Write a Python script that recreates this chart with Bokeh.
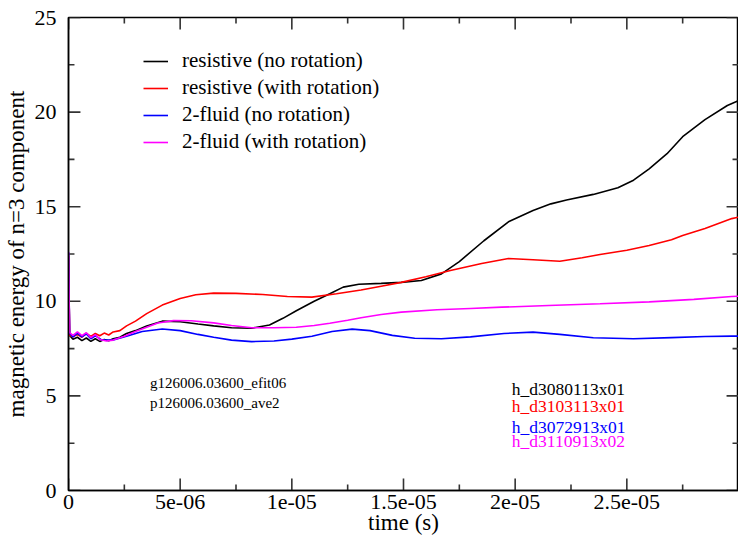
from bokeh.plotting import figure
from bokeh.models import (FixedTicker, Legend, LegendItem, Label, Range1d, ColumnDataSource)
from bokeh.embed import file_html
from bokeh.resources import INLINE

# ---------------- data (time in microseconds) ----------------
t_black = [0.0, 0.05, 0.2, 0.4, 0.6, 0.8, 1.0, 1.2, 1.4, 1.6, 1.8, 2.0, 2.3, 2.6, 3.0, 3.5,
           4.2, 5.0, 5.8, 6.5, 7.3, 8.2, 9.0, 9.6, 10.2, 11.0, 11.7, 12.3, 13.0, 14.0, 14.9,
           15.8, 16.7, 17.5, 18.6, 19.7, 20.8, 21.6, 22.3, 23.5, 24.6, 25.3, 26.0, 26.8,
           27.5, 28.5, 29.5, 30.0]
v_black = [12.5, 8.2, 8.0, 8.1, 7.92, 8.06, 7.88, 8.02, 7.88, 7.98, 7.92, 8.02, 8.1, 8.3, 8.45, 8.7,
           8.95, 8.92, 8.8, 8.7, 8.6, 8.58, 8.75, 9.1, 9.5, 10.0, 10.4, 10.75, 10.9, 10.95, 11.0,
           11.1, 11.45, 12.1, 13.2, 14.2, 14.8, 15.15, 15.35, 15.65, 16.0, 16.4, 17.0, 17.8,
           18.7, 19.6, 20.35, 20.6]

t_red = [0.0, 0.05, 0.2, 0.4, 0.6, 0.8, 1.0, 1.2, 1.4, 1.6, 1.8, 2.0, 2.3, 2.6, 3.0, 3.5, 4.2,
         5.0, 5.7, 6.5, 7.5, 8.7, 9.8, 10.9, 12.0, 13.1, 14.0, 14.9, 16.0, 17.1, 18.5, 19.7,
         20.8, 22.0, 23.0, 23.8, 25.0, 26.0, 27.0, 27.5, 28.5, 29.7, 30.0]
v_red = [12.4, 8.2, 8.12, 8.26, 8.1, 8.3, 8.14, 8.3, 8.18, 8.32, 8.22, 8.38, 8.45, 8.7, 8.95, 9.35, 9.8,
         10.15, 10.35, 10.43, 10.42, 10.36, 10.25, 10.22, 10.4, 10.6, 10.8, 11.0, 11.3, 11.63, 12.0, 12.26,
         12.2, 12.12, 12.3, 12.47, 12.7, 12.95, 13.25, 13.48, 13.85, 14.37, 14.45]

t_blue = [0.0, 0.05, 0.2, 0.4, 0.6, 0.8, 1.0, 1.2, 1.5, 2.0, 2.6, 3.3, 4.2, 5.0, 5.8, 6.5, 7.3,
          8.2, 9.2, 10.0, 10.9, 11.8, 12.7, 13.5, 14.5, 15.5, 16.7, 18.0, 19.5, 20.8, 22.0,
          23.5, 25.3, 27.0, 28.5, 29.7, 30.0]
v_blue = [12.6, 8.3, 8.12, 8.32, 8.12, 8.28, 8.02, 8.18, 7.95, 7.96, 8.15, 8.4, 8.54, 8.45, 8.25, 8.1, 7.95,
          7.87, 7.9, 8.0, 8.15, 8.4, 8.53, 8.45, 8.2, 8.05, 8.02, 8.12, 8.3, 8.37, 8.25,
          8.07, 8.02, 8.08, 8.14, 8.16, 8.16]

t_mag = [0.0, 0.05, 0.2, 0.4, 0.6, 0.8, 1.0, 1.2, 1.4, 1.7, 2.0, 2.5, 3.0, 3.5, 4.0, 4.7, 5.5,
         6.5, 7.3, 8.2, 9.2, 10.2, 11.0, 11.7, 12.5, 13.1, 14.0, 14.9, 16.5, 18.0, 19.4, 21.5,
         23.8, 26.0, 28.0, 29.7, 30.0]
v_mag = [12.6, 8.35, 8.2, 8.38, 8.18, 8.34, 8.08, 8.24, 7.98, 7.9, 7.95, 8.15, 8.4, 8.63, 8.85, 8.98, 8.97,
         8.86, 8.72, 8.6, 8.6, 8.63, 8.72, 8.84, 9.0, 9.13, 9.3, 9.43, 9.55, 9.62, 9.69, 9.78,
         9.87, 9.97, 10.1, 10.25, 10.27]

series_labels = ["resistive (no rotation)", "resistive (with rotation)",
                 "2-fluid (no rotation)", "2-fluid (with rotation)"]
series_colors = ["#000000", "#ff0000", "#0000ff", "#ff00ff"]

x_ticks = [0.0, 5e-6, 1e-5, 1.5e-5, 2e-5, 2.5e-5]
x_tick_labels = ["0", "5e-06", "1e-05", "1.5e-05", "2e-05", "2.5e-05"]
x_minor = [2.5e-6, 7.5e-6, 1.25e-5, 1.75e-5, 2.25e-5, 2.75e-5]
y_ticks = [0, 5, 10, 15, 20, 25]
y_minor = [2.5, 7.5, 12.5, 17.5, 22.5]

file_labels = ["h_d3080113x01", "h_d3103113x01", "h_d3072913x01", "h_d3110913x02"]
file_label_y = [5.39, 4.44, 3.38, 2.6]
case_labels = ["g126006.03600_efit06", "p126006.03600_ave2"]
case_label_y = [5.66, 4.65]

FONT = "Liberation Serif"
X0, X1, Y0, Y1 = 0.0, 3e-5, 0.0, 25.0

# ---------------- figure ----------------
p = figure(width=738, height=538, output_backend="svg", toolbar_location=None,
           x_range=Range1d(X0, X1), y_range=Range1d(Y0, Y1),
           min_border_left=65, min_border_bottom=48, min_border_top=17, min_border_right=0,
           x_axis_label="time (s)", y_axis_label="magnetic energy of n=3 component")
p.grid.visible = False
p.outline_line_color = "black"
p.outline_line_width = 1.5
p.background_fill_color = "white"
p.border_fill_color = "white"

def style_axis(ax):
    ax.major_tick_in = 0
    ax.major_tick_out = 0
    ax.minor_tick_in = 0
    ax.minor_tick_out = 0
    ax.axis_line_color = "black"
    ax.axis_line_width = 1.5
    ax.major_label_text_font = FONT
    ax.axis_label_text_font = FONT
    ax.axis_label_text_font_style = "normal"
    ax.major_label_text_font_size = "22px"
    ax.axis_label_text_font_size = "23px"
    ax.major_label_text_color = "black"
    ax.axis_label_text_color = "black"

xa = p.xaxis[0]
xa.ticker = FixedTicker(ticks=x_ticks, minor_ticks=x_minor)
xa.major_label_overrides = {k: v for k, v in zip(x_ticks, x_tick_labels)}
style_axis(xa)
xa.major_label_standoff = 4
xa.axis_label_standoff = -2

ya = p.yaxis[0]
ya.ticker = FixedTicker(ticks=y_ticks, minor_ticks=y_minor)
style_axis(ya)
ya.major_label_standoff = 12
ya.axis_label_standoff = 3

# ---------------- inward ticks on all four sides ----------------
frame_w, frame_h = 673.0, 473.0
maj_px, min_px = 12.0, 6.0
dx_maj = maj_px * (X1 - X0) / frame_w
dx_min = min_px * (X1 - X0) / frame_w
dy_maj = maj_px * (Y1 - Y0) / frame_h
dy_min = min_px * (Y1 - Y0) / frame_h
tick_xs, tick_ys = [], []
for ticks, dy in ((x_ticks, dy_maj), (x_minor, dy_min)):
    for t in ticks:
        tick_xs.append([t, t]); tick_ys.append([Y0, Y0 + dy])
        tick_xs.append([t, t]); tick_ys.append([Y1, Y1 - dy])
for ticks, dx in ((y_ticks, dx_maj), (y_minor, dx_min)):
    for t in ticks:
        tick_xs.append([X0, X0 + dx]); tick_ys.append([t, t])
        tick_xs.append([X1, X1 - dx]); tick_ys.append([t, t])
tick_src = ColumnDataSource(data=dict(xs=tick_xs, ys=tick_ys))
p.multi_line(xs="xs", ys="ys", source=tick_src, line_color="#333333", line_width=1.6)

# ---------------- lines ----------------
all_t = [t_black, t_red, t_blue, t_mag]
all_v = [v_black, v_red, v_blue, v_mag]
items = []
for tt, vv, c, lab in zip(all_t, all_v, series_colors, series_labels):
    r = p.line([x * 1e-6 for x in tt], vv, line_color=c, line_width=1.6)
    items.append(LegendItem(label=lab, renderers=[r]))

legend = Legend(items=items, location=(75, 336))
legend.glyph_width = 25
legend.glyph_height = 20
legend.label_height = 20
legend.spacing = 2
legend.label_standoff = 14
legend.padding = 0
legend.margin = 0
legend.border_line_alpha = 0
legend.background_fill_alpha = 0
legend.label_text_font = FONT
legend.label_text_font_size = "21px"
legend.label_text_color = "black"
p.add_layout(legend)

for txt, yv in zip(case_labels, case_label_y):
    p.add_layout(Label(x=3.65e-6, y=yv, text=txt, text_font=FONT, text_font_size="15px",
                       text_baseline="middle", text_color="black"))

for txt, yv, c in zip(file_labels, file_label_y, series_colors):
    p.add_layout(Label(x=19.85e-6, y=yv, text=txt, text_font=FONT, text_font_size="17.5px",
                       text_baseline="middle", text_color=c))

open("out.html", "w").write(file_html(p, INLINE))
